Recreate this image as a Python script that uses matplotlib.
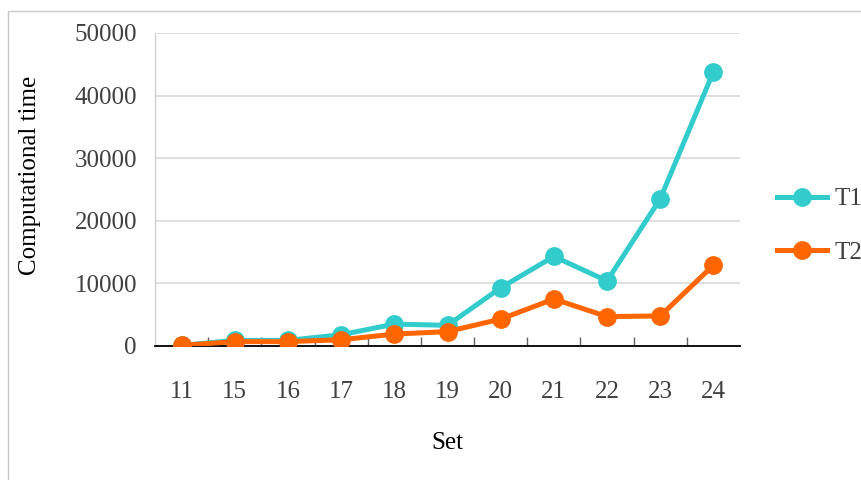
import matplotlib
matplotlib.use('Agg')
import matplotlib.pyplot as plt
from matplotlib.patches import Rectangle
from matplotlib.ticker import FixedLocator

# Data
sets = ['11', '15', '16', '17', '18', '19', '20', '21', '22', '23', '24']
t1 = [100, 900, 900, 1800, 3500, 3300, 9300, 14300, 10400, 23500, 43800]
t2 = [100, 700, 700, 1000, 1900, 2300, 4300, 7500, 4700, 4800, 12900]
yticks = [0, 10000, 20000, 30000, 40000, 50000]

plt.rcParams['font.family'] = ['Liberation Serif', 'DejaVu Serif']

fig = plt.figure(figsize=(8.61, 4.80), dpi=100, facecolor='white')

# Outer chart border
fig.patches.append(Rectangle((8/861, -0.1), 1.0, 1 - 11/480 + 0.1,
                             transform=fig.transFigure, fill=False,
                             edgecolor='#C8C8C8', linewidth=1.0))

ax = fig.add_axes([155/861, 1 - 346/480, 585/861, 313/480])
x = list(range(len(sets)))
ax.plot(x, t1, color='#33CCCC', linewidth=3.6, marker='o',
        markersize=12.5, label='T1', zorder=3)
ax.plot(x, t2, color='#FF6600', linewidth=3.6, marker='o',
        markersize=12.5, label='T2', zorder=4)

ax.set_xlim(-0.5, len(sets) - 0.5)
ax.set_ylim(0, 50000)
ax.set_yticks(yticks)
ax.set_yticklabels([str(v) for v in yticks])
ax.set_xticks(x)
ax.set_xticklabels(sets)
ax.xaxis.set_minor_locator(FixedLocator([i + 0.5 for i in range(len(sets) - 1)]))

ax.grid(axis='y', color='#D9D9D9', linewidth=1.2, zorder=0)
ax.set_axisbelow(True)
for s in ['top', 'right']:
    ax.spines[s].set_visible(False)
ax.spines['left'].set_color('#D0D0D0')
ax.spines['left'].set_linewidth(1.0)
ax.spines['bottom'].set_color('black')
ax.spines['bottom'].set_linewidth(1.3)

ax.tick_params(axis='y', length=0, pad=13, labelsize=18, labelcolor='#404040')
ax.tick_params(axis='x', which='major', length=0, pad=25, labelsize=18,
               labelcolor='#404040')
ax.tick_params(axis='x', which='minor', direction='in', length=6.5,
               width=1.0, color='#606060')

# Axis titles
fig.text(30/861, 1 - 175/480, 'Computational time', fontsize=18,
         rotation=90, ha='center', va='center')
fig.text(447/861, 1 - 443/480, 'Set', fontsize=18, ha='center', va='center')

fig.legend(loc='center left', bbox_to_anchor=(777/861, 1 - 226/480),
           frameon=False, fontsize=18, handlelength=2.0, handletextpad=0.3,
           labelspacing=1.25, labelcolor='#404040', borderaxespad=0,
           borderpad=0)

fig.savefig('out.png', dpi=100, facecolor='white')
